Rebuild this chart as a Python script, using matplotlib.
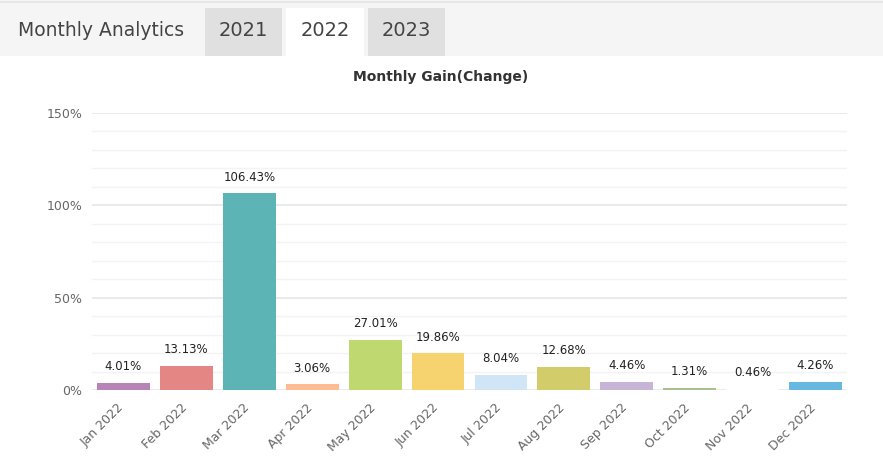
import matplotlib
matplotlib.use('Agg')
import matplotlib.pyplot as plt
from matplotlib.patches import Rectangle
from matplotlib.transforms import ScaledTranslation

# Dados do gráfico
meses = ['Jan 2022', 'Feb 2022', 'Mar 2022', 'Apr 2022', 'May 2022', 'Jun 2022',
         'Jul 2022', 'Aug 2022', 'Sep 2022', 'Oct 2022', 'Nov 2022', 'Dec 2022']
ganhos = [4.01, 13.13, 106.43, 3.06, 27.01, 19.86, 8.04, 12.68, 4.46, 1.31, 0.46, 4.26]
cores = ['#b784b7', '#e48784', '#5cb5b4', '#ffbb93', '#bfd86f', '#f7d36f',
         '#d0e6f7', '#d2cc6a', '#c7b5d8', '#a9c08f', '#ffffff', '#66b8e1']
anos = ['2021', '2022', '2023']
y_ticks = [0, 50, 100, 150]

W, H = 883, 466
fig = plt.figure(figsize=(W / 100, H / 100), dpi=100)
fig.patch.set_facecolor('white')

# Cabeçalho
fig.patches.append(Rectangle((0, (H - 56) / H), 1, 56 / H, transform=fig.transFigure,
                             facecolor='#f5f5f5', edgecolor='none'))
fig.patches.append(Rectangle((0, (H - 3) / H), 1, 2 / H, transform=fig.transFigure,
                             facecolor='#e6e6e6', edgecolor='none'))
fig.text(18 / W, 1 - 31 / H, 'Monthly Analytics', fontsize=13.5, color='#444444',
         va='center', ha='left')
tabs_x = [(205, 282), (286, 364), (368, 445)]
for ano, (x0, x1) in zip(anos, tabs_x):
    cor_tab = 'white' if ano == '2022' else '#e0e0e0'
    fig.patches.append(Rectangle((x0 / W, (H - 56) / H), (x1 - x0) / W, 48 / H,
                                 transform=fig.transFigure, facecolor=cor_tab, edgecolor='none'))
    fig.text((x0 + x1) / 2 / W, 1 - 31 / H, ano, fontsize=14, color='#444444',
             va='center', ha='center')

# Gráfico de barras
ax = fig.add_axes([92 / W, 76 / H, (847 - 92) / W, (390 - 113) / H])
x = range(len(meses))
ax.bar(x, ganhos, width=0.84, color=cores, zorder=3)
for i, v in enumerate(ganhos):
    ax.annotate(f'{v:.2f}%', (i, v), xytext=(0, 7), textcoords='offset points',
                ha='center', va='bottom', fontsize=8.5, color='#222222')

ax.set_xlim(-0.5, len(meses) - 0.5)
ax.set_ylim(0, 150)
ax.set_yticks(y_ticks)
ax.set_yticklabels([f'{t}%' for t in y_ticks])
ax.set_yticks(range(0, 151, 10), minor=True)
ax.grid(axis='y', which='major', color='#e6e6e6', linewidth=1.2, zorder=0)
ax.grid(axis='y', which='minor', color='#f3f3f3', linewidth=1, zorder=0)
ax.set_xticks(list(x))
ax.set_xticklabels(meses, rotation=45, ha='right', rotation_mode='anchor')
ax.tick_params(axis='both', which='both', length=0, labelsize=9, colors='#666666')
ax.tick_params(axis='y', pad=7)
ax.tick_params(axis='x', pad=8)
deslocamento = ScaledTranslation(-6 / 100, 0, fig.dpi_scale_trans)
for rotulo in ax.get_xticklabels():
    rotulo.set_transform(rotulo.get_transform() + deslocamento)
for s in ax.spines.values():
    s.set_visible(False)

fig.text(441 / W, 1 - 77 / H, 'Monthly Gain(Change)', fontsize=10, fontweight='bold',
         color='#333333', ha='center', va='center')

fig.savefig('out.png', dpi=100)
